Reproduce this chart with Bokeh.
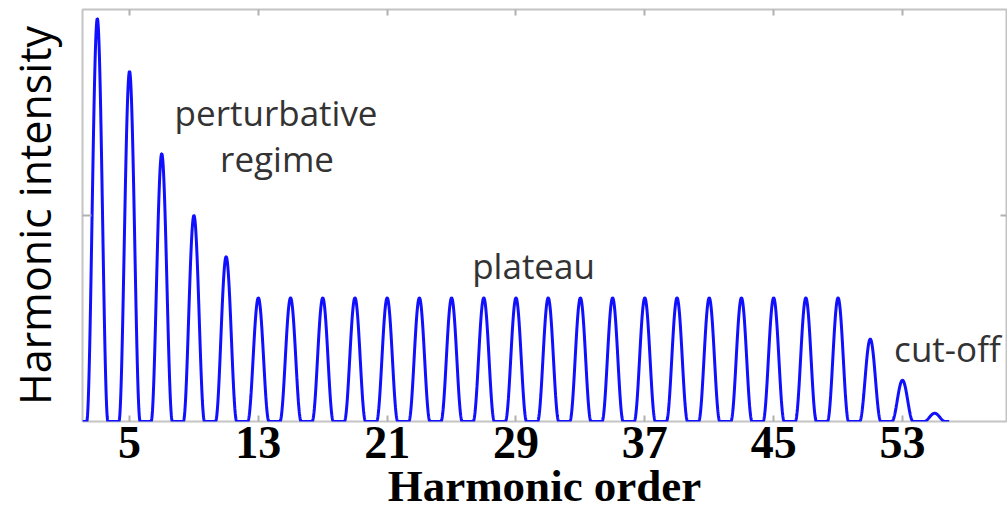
import numpy as np
from bokeh.plotting import figure
from bokeh.models import LinearAxis, FixedTicker, Range1d, Label
from bokeh.embed import file_html
from bokeh.resources import INLINE

# Harmonic orders (odd) and peak intensities (normalised)
orders = [3, 5, 7, 9, 11, 13, 15, 17, 19, 21, 23, 25, 27, 29, 31, 33, 35, 37,
          39, 41, 43, 45, 47, 49, 51, 53, 55]
heights = [0.978, 0.85, 0.65, 0.50, 0.40, 0.30, 0.30, 0.30, 0.30, 0.30, 0.30,
           0.30, 0.30, 0.30, 0.30, 0.30, 0.30, 0.30, 0.30, 0.30, 0.30, 0.30,
           0.30, 0.30, 0.20, 0.10, 0.02]
x_ticks = [5, 13, 21, 29, 37, 45, 53]
y_ticks = [0.5]
annotations = [("perturbative", 14.10, 0.750), ("regime", 14.16, 0.638),
               ("plateau", 30.09, 0.379), ("cut-off", 55.79, 0.177)]

# spectrum line shape: each harmonic drawn as a narrow cos^2 peak
half_base = 0.66
xs = np.linspace(2.08, 55.9, 4000)
ys = np.zeros_like(xs)
for c, h in zip(orders, heights):
    d = np.abs(xs - c)
    ys += np.where(d < half_base, h * np.cos(np.pi * d / (2 * half_base)) ** 2, 0.0)

p = figure(width=1007, height=514, output_backend="svg", toolbar_location=None,
           x_range=Range1d(2.08, 59.46), y_range=Range1d(0, 1),
           x_axis_location=None, y_axis_location=None,
           min_border_left=82, min_border_right=1, min_border_top=9,
           min_border_bottom=93)
p.xgrid.visible = False
p.ygrid.visible = False
p.background_fill_color = "white"
p.border_fill_color = "white"
p.outline_line_color = "#c4c4c4"
p.outline_line_width = 2

p.line(xs, ys, line_color="#1010ff", line_width=3)

tick_color = "#b0b0b0"


def tick_only_axis(ticks, tick_in):
    ax = LinearAxis(ticker=FixedTicker(ticks=ticks))
    ax.axis_line_color = None
    ax.major_tick_in = tick_in
    ax.major_tick_out = 0
    ax.major_tick_line_color = tick_color
    ax.major_tick_line_width = 2
    ax.minor_tick_line_color = None
    ax.major_label_overrides = {t: "" for t in ticks}
    ax.major_label_standoff = 0
    return ax


xb = LinearAxis(ticker=FixedTicker(ticks=x_ticks), axis_label="Harmonic order")
xb.axis_line_color = None
xb.major_tick_in = 6
xb.major_tick_out = 0
xb.major_tick_line_color = tick_color
xb.major_tick_line_width = 2
xb.minor_tick_line_color = None
xb.major_label_text_font = "Liberation Serif"
xb.major_label_text_font_style = "bold"
xb.major_label_text_font_size = "46px"
xb.major_label_text_color = "black"
xb.major_label_standoff = 5
xb.axis_label_text_font = "Liberation Serif"
xb.axis_label_text_font_style = "bold"
xb.axis_label_text_font_size = "45px"
xb.axis_label_text_color = "black"
xb.axis_label_standoff = 0
p.add_layout(xb, "below")

p.add_layout(tick_only_axis(x_ticks, 6), "above")

yl = tick_only_axis(y_ticks, 9)
yl.axis_label = "Harmonic intensity"
yl.axis_label_text_font = "Open Sans"
yl.axis_label_text_font_style = "normal"
yl.axis_label_text_font_size = "43px"
yl.axis_label_text_color = "black"
yl.axis_label_standoff = 19
p.add_layout(yl, "left")

p.add_layout(tick_only_axis(y_ticks, 6), "right")

for txt, ax, ay in annotations:
    p.add_layout(Label(x=ax, y=ay, text=txt, text_align="center",
                       text_baseline="alphabetic", text_font="Open Sans",
                       text_font_size="35px", text_color="#333333"))

open("out.html", "w").write(file_html(p, INLINE))
